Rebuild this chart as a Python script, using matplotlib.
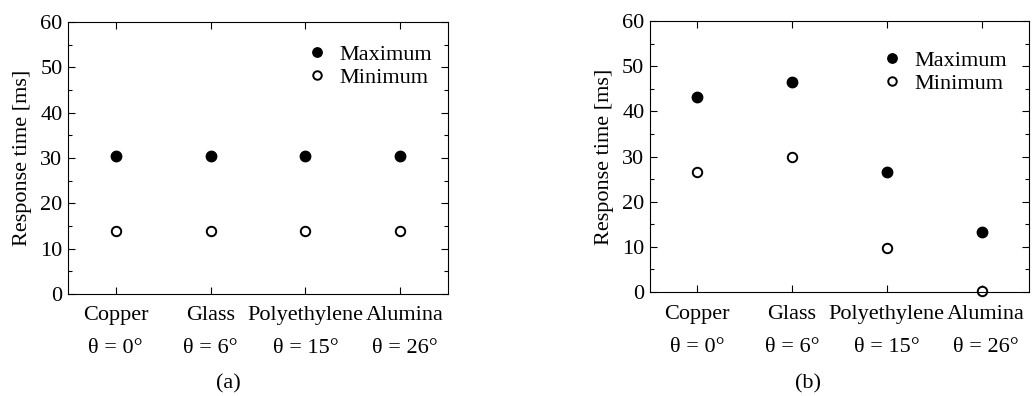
import matplotlib
matplotlib.use("Agg")
import matplotlib.pyplot as plt
import matplotlib.transforms as mtransforms
from matplotlib.ticker import MultipleLocator

plt.rcParams['font.family'] = ['Liberation Serif', 'DejaVu Serif']

materials = ["Copper", "Glass", "Polyethylene", "Alumina"]
angles = ["θ = 0°", "θ = 6°", "θ = 15°", "θ = 26°"]
max_a = [30.5, 30.5, 30.5, 30.5]
min_a = [13.8, 13.8, 13.8, 13.8]
max_b = [43.2, 46.6, 26.5, 13.2]
min_b = [26.5, 29.8, 9.8, 0.3]
panel_labels = ["(a)", "(b)"]

fig = plt.figure(figsize=(10.32, 3.96), dpi=100)
axA = fig.add_axes([0.0659, 0.2576, 0.3682, 0.6869])
axB = fig.add_axes([0.6298, 0.2626, 0.3672, 0.6843])

fs = 16
xt = list(range(len(materials)))
ticklabels = [f"{m}\n{a}" for m, a in zip(materials, angles)]

configs = [
    (axA, max_a, min_a, panel_labels[0], (0.958, 0.917), 228),
    (axB, max_b, min_b, panel_labels[1], (0.942, 0.892), 808),
]
for ax, mx, mn, lab, leg_anchor, labx in configs:
    ax.plot(xt, mx, 'o', color='black', markersize=7.5, linestyle='none', label='Maximum')
    ax.plot(xt, mn, 'o', markerfacecolor='white', markeredgecolor='black',
            markeredgewidth=1.4, markersize=6.8, linestyle='none', label='Minimum', clip_on=False)
    ax.set_xlim(-0.5, 3.5)
    ax.set_ylim(0, 60)
    ax.set_xticks(xt)
    ax.set_xticklabels(ticklabels, fontsize=fs, linespacing=2.0)
    ax.yaxis.set_major_locator(MultipleLocator(10))
    ax.yaxis.set_minor_locator(MultipleLocator(5))
    ax.tick_params(axis='both', which='both', direction='in', top=True, right=True)
    ax.tick_params(axis='both', which='major', length=5, width=0.8)
    ax.tick_params(axis='both', which='minor', length=3, width=0.8)
    ax.tick_params(axis='y', labelsize=fs, pad=4)
    ax.tick_params(axis='x', pad=9)
    for s in ax.spines.values():
        s.set_linewidth(0.8)
    ax.set_ylabel("Response time [ms]", fontsize=fs, labelpad=6)
    ax.legend(loc='upper right', bbox_to_anchor=leg_anchor, frameon=False,
              fontsize=fs, handlelength=1.0, handletextpad=0.5, labelspacing=0.1,
              markerscale=0.9, borderaxespad=0.0, borderpad=0.0)
    # small horizontal nudge of the last label so neighbouring names do not touch
    last = ax.get_xticklabels()[-1]
    last.set_transform(last.get_transform() +
                       mtransforms.ScaledTranslation(4 / 100, 0, fig.dpi_scale_trans))
    fig.text(labx / 1032, 1 - 384 / 396, lab, ha='center', va='center', fontsize=fs)

fig.savefig("out.png", dpi=100)
